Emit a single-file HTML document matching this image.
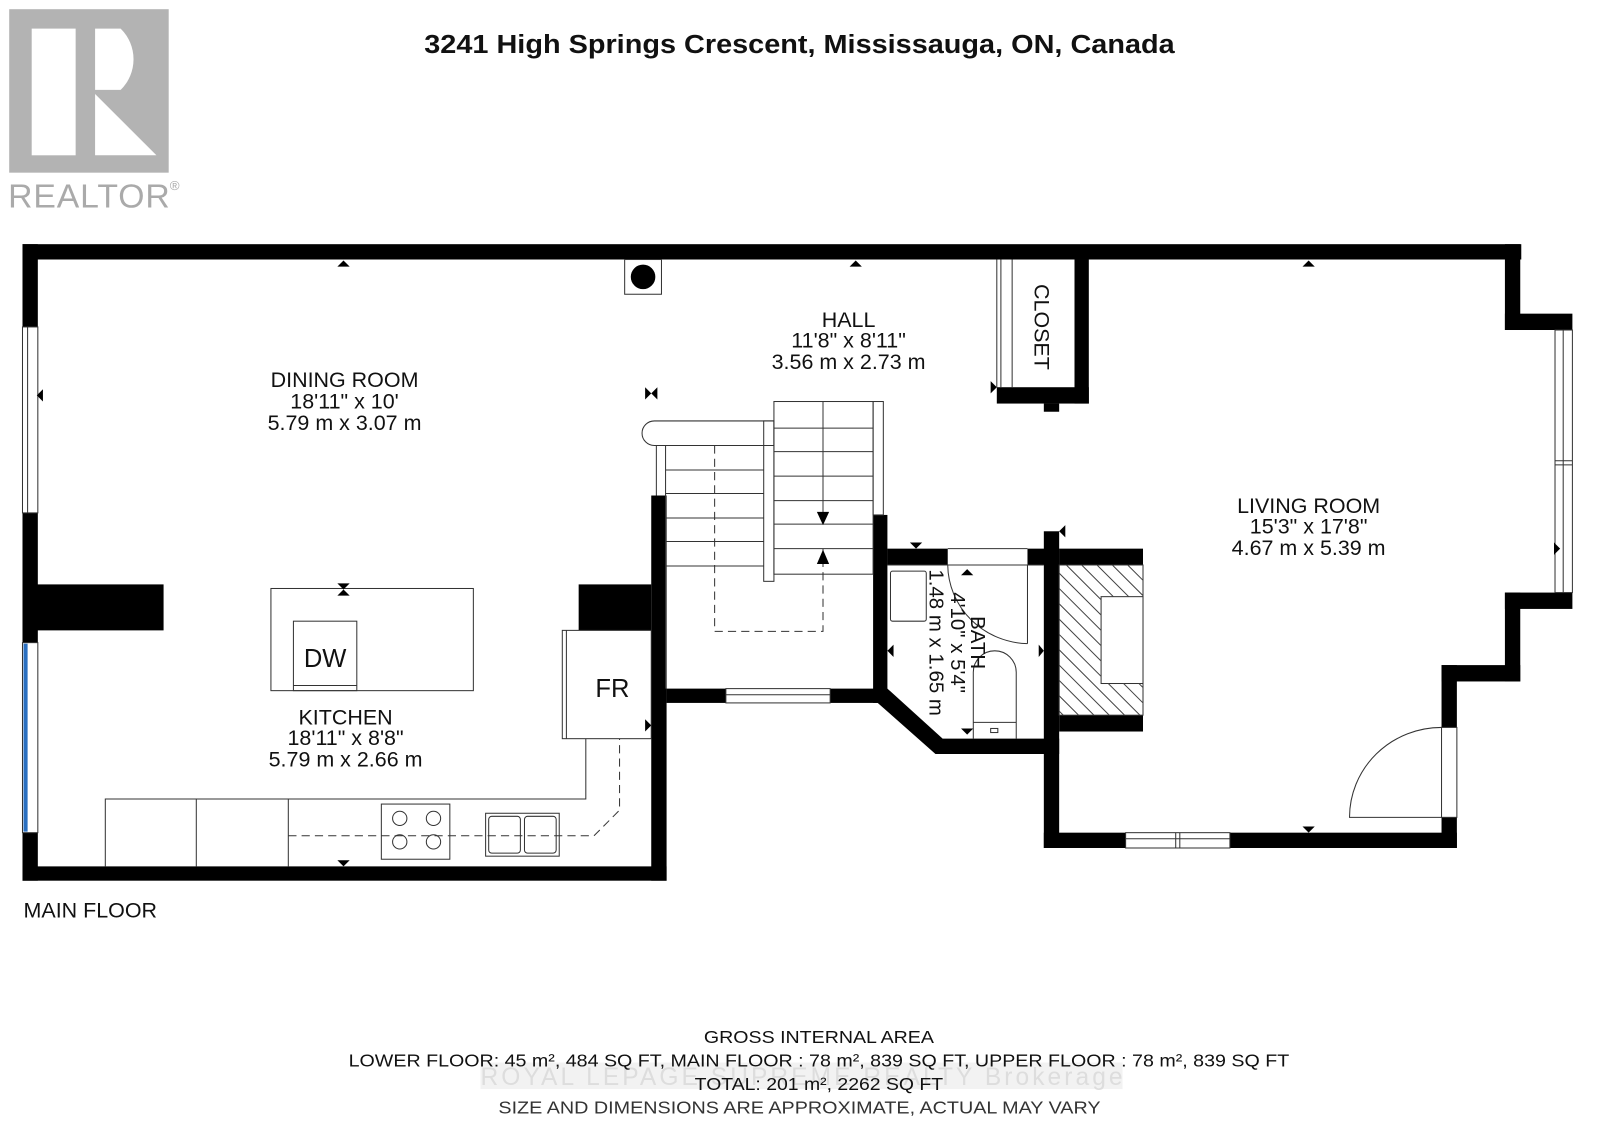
<!DOCTYPE html>
<html><head><meta charset="utf-8"><style>
html,body{margin:0;padding:0;background:#fff;}
svg{display:block;}
text{font-family:"Liberation Sans",Arial,sans-serif;fill:#111;}
</style></head><body>
<svg width="1600" height="1131" viewBox="0 0 1565 1107" preserveAspectRatio="none" xmlns="http://www.w3.org/2000/svg">
<!-- Logo -->
<rect x="9" y="9" width="156" height="160" fill="#b3b3b3"/>
<rect x="31" y="28" width="43" height="124" fill="#fff"/>
<path d="M93 28 H118 A42 42 0 0 1 118 88 H93 Z" fill="#fff"/>
<polygon points="93,92 93,152 153,152" fill="#fff"/>
<text x="8" y="203" font-size="33" style="fill:#aaa" textLength="158">REALTOR</text>
<text x="166" y="186" font-size="13" style="fill:#aaa">®</text>
<!-- Title -->
<text x="782" y="52" font-size="25" font-weight="bold" text-anchor="middle" textLength="734" lengthAdjust="spacingAndGlyphs">3241 High Springs Crescent, Mississauga, ON, Canada</text>

<g fill="#000">
<rect x="22" y="239" width="1466" height="15"/>
<rect x="22" y="239" width="15" height="81"/>
<rect x="22" y="502" width="15" height="127"/>
<rect x="22" y="815" width="15" height="47"/>
<rect x="22" y="572" width="138" height="45"/>
<rect x="22" y="848" width="630" height="14"/>
<rect x="637" y="485" width="15" height="377"/>
<rect x="566" y="572" width="71" height="45"/>
<rect x="652" y="674" width="58" height="14"/>
<rect x="812" y="674" width="56" height="14"/>
<rect x="854" y="504" width="14" height="184"/>
<rect x="868" y="537" width="59" height="16"/>
<rect x="1005" y="537" width="31" height="16"/>
<polygon points="854,674 868,674 922,723 1036,723 1036,738 915,738 854,684"/>
<rect x="1021" y="520" width="15" height="310"/>
<rect x="1036" y="537" width="82" height="16"/>
<rect x="1036" y="700" width="82" height="16"/>
<rect x="1051" y="254" width="14" height="141"/>
<rect x="975" y="379" width="90" height="16"/>
<rect x="1021" y="395" width="15" height="8"/>
<rect x="1472" y="239" width="15" height="84"/>
<rect x="1472" y="307" width="66" height="16"/>
<rect x="1472" y="580" width="66" height="16"/>
<rect x="1472" y="580" width="15" height="87"/>
<rect x="1410" y="651" width="77" height="16"/>
<rect x="1410" y="651" width="15" height="61"/>
<rect x="1410" y="800" width="15" height="30"/>
<rect x="1021" y="815" width="80" height="15"/>
<rect x="1203" y="815" width="222" height="15"/>
</g>

<g fill="none" stroke="#333" stroke-width="1">
<rect x="22" y="320" width="15" height="182"/>
<line x1="27" y1="320" x2="27" y2="502"/>
<rect x="22" y="629" width="15" height="186"/>
<rect x="710" y="674" width="102" height="14"/>
<line x1="710" y1="680" x2="812" y2="680"/>
<rect x="1101" y="815" width="102" height="15"/>
<line x1="1101" y1="821" x2="1203" y2="821"/>
<line x1="1150" y1="815" x2="1150" y2="830"/><line x1="1154" y1="815" x2="1154" y2="830"/>
<rect x="1521" y="323" width="17" height="257"/>
<line x1="1529" y1="323" x2="1529" y2="580"/>
<line x1="1521" y1="451" x2="1538" y2="451"/><line x1="1521" y1="455" x2="1538" y2="455"/>
<rect x="1410" y="712" width="15" height="88"/>
<path d="M1410 712 A90 88 0 0 0 1320 800 L1410 800"/>
<line x1="975" y1="254" x2="975" y2="379"/>
<line x1="979" y1="254" x2="979" y2="379"/>
<line x1="990" y1="254" x2="990" y2="379"/>
<rect x="611" y="254" width="36" height="34"/>
<rect x="265" y="576" width="198" height="100"/>
<rect x="287" y="608" width="62" height="68"/>
<line x1="287" y1="671" x2="349" y2="671"/>
<rect x="550" y="617" width="87" height="106"/>
<line x1="554" y1="617" x2="554" y2="723"/>
<polyline points="103,848 103,782 573,782 573,723"/>
<line x1="192" y1="782" x2="192" y2="848"/>
<line x1="282" y1="782" x2="282" y2="848"/>
<polyline points="282,818 581,818 606,793 606,723" stroke-dasharray="8,5"/>
<rect x="373" y="787" width="67" height="54"/>
<circle cx="391" cy="801" r="7"/><circle cx="424" cy="801" r="7"/>
<circle cx="391" cy="824" r="7"/><circle cx="424" cy="824" r="7"/>
<rect x="475" y="796" width="72" height="42"/>
<rect x="478" y="799" width="31" height="36" rx="3"/>
<rect x="513" y="799" width="31" height="36" rx="3"/>
<path d="M651 412 H757 V436 H640 A12 12 0 0 1 640 412 Z"/>
<line x1="642" y1="436" x2="642" y2="485"/>
<line x1="651" y1="436" x2="651" y2="674"/>
<line x1="651" y1="460" x2="747" y2="460"/>
<line x1="651" y1="483" x2="747" y2="483"/>
<line x1="651" y1="507" x2="747" y2="507"/>
<line x1="651" y1="530" x2="747" y2="530"/>
<line x1="651" y1="554" x2="747" y2="554"/>
<rect x="747" y="412" width="10" height="157"/>
<rect x="757" y="393" width="97" height="169"/>
<line x1="757" y1="419" x2="854" y2="419"/>
<line x1="757" y1="442" x2="854" y2="442"/>
<line x1="757" y1="466" x2="854" y2="466"/>
<line x1="757" y1="490" x2="854" y2="490"/>
<line x1="757" y1="513" x2="854" y2="513"/>
<line x1="757" y1="537" x2="854" y2="537"/>
<line x1="805" y1="393" x2="805" y2="513"/>
<rect x="854" y="393" width="10" height="111"/>
<polyline points="699,436 699,618 805,618 805,537" stroke-dasharray="8,5"/>
<line x1="927" y1="537" x2="1005" y2="537"/>
<line x1="868" y1="553" x2="1021" y2="553"/>
<line x1="1005" y1="553" x2="1005" y2="630"/>
<path d="M927 553 A80 78 0 0 0 1005 630"/>
<rect x="871" y="559" width="35" height="49" rx="2"/>
<path d="M952 723 V658 A21 21 0 0 1 994 658 V723"/>
<line x1="952" y1="707" x2="994" y2="707"/>
<rect x="969" y="713" width="7" height="4"/>
<rect x="1036" y="553" width="82" height="147"/>
<rect x="1077" y="584" width="41" height="85" fill="#fff"/>
</g>
<rect x="23" y="630" width="4" height="184" fill="#2a6fc0"/>
<circle cx="629" cy="271" r="12" fill="#000"/>
<clipPath id="fp"><path d="M1036 553 H1118 V584 H1077 V669 H1118 V700 H1036 Z"/></clipPath>
<g clip-path="url(#fp)" stroke="#444" stroke-width="1">
<path d="M1000 540 l140 140 M1000 555 l140 140 M1000 570 l140 140 M1000 585 l140 140 M1000 600 l140 140 M1000 615 l140 140 M1000 630 l140 140 M1000 645 l140 140 M1000 660 l140 140 M1000 675 l140 140 M1000 525 l140 140 M1000 510 l140 140 M1000 495 l140 140 M1000 480 l140 140 M1000 465 l140 140 M1000 450 l140 140 M1000 435 l140 140 M1000 420 l140 140"/>
</g>

<g fill="#000">
<polygon points="330,261 342,261 336,255"/>
<polygon points="831,261 843,261 837,255"/>
<polygon points="1274,261 1286,261 1280,255"/>
<polygon points="330,842 342,842 336,848"/>
<polygon points="1274,809 1286,809 1280,815"/>
<polygon points="42,381 42,393 36,387"/>
<polygon points="1520,531 1520,543 1526,537"/>
<polygon points="631,379 631,391 637,385"/><polygon points="643,379 643,391 637,385"/>
<polygon points="330,571 342,571 336,577"/><polygon points="330,583 342,583 336,577"/>
<polygon points="631,704 631,716 637,710"/>
<polygon points="969,373 969,385 975,379"/>
<polygon points="799,501 811,501 805,514"/>
<polygon points="799,552 811,552 805,538"/>
<polygon points="890,531 902,531 896,537"/>
<polygon points="940,563 952,563 946,557"/>
<polygon points="940,713 952,713 946,719"/>
<polygon points="874,631 874,643 868,637"/>
<polygon points="1016,631 1016,643 1021,637"/>
<polygon points="1042,514 1042,526 1036,520"/>
</g>

<g font-size="21" text-anchor="middle">
<text x="337" y="379">DINING ROOM</text>
<text x="337" y="400">18'11" x 10'</text>
<text x="337" y="421">5.79 m x 3.07 m</text>
<text x="338" y="709">KITCHEN</text>
<text x="338" y="729">18'11" x 8'8"</text>
<text x="338" y="750">5.79 m x 2.66 m</text>
<text x="830" y="320">HALL</text>
<text x="830" y="340">11'8" x 8'11"</text>
<text x="830" y="361">3.56 m x 2.73 m</text>
<text x="1280" y="502">LIVING ROOM</text>
<text x="1280" y="522">15'3" x 17'8"</text>
<text x="1280" y="543">4.67 m x 5.39 m</text>
<text transform="translate(1012,320) rotate(90)">CLOSET</text>
<g transform="translate(944,629) rotate(90)" font-size="20">
<text x="0" y="-6">BATH</text>
<text x="0" y="14">4'10" x 5'4"</text>
<text x="0" y="35">1.48 m x 1.65 m</text>
</g>
</g>
<text x="318" y="653" font-size="25" text-anchor="middle">DW</text>
<text x="599" y="682" font-size="25" text-anchor="middle">FR</text>
<text x="23" y="898" font-size="21">MAIN FLOOR</text>

<rect x="470" y="1040" width="628" height="26" fill="#f2f2f2"/>
<text x="784" y="1062" font-size="24" text-anchor="middle" style="fill:#ddd" textLength="628">ROYAL LEPAGE SUPREME REALTY Brokerage</text>
<g font-size="17" text-anchor="middle">
<text x="801" y="1021" textLength="225" lengthAdjust="spacingAndGlyphs">GROSS INTERNAL AREA</text>
<text x="801" y="1044" textLength="920" lengthAdjust="spacingAndGlyphs">LOWER FLOOR: 45 m², 484 SQ FT,  MAIN FLOOR : 78 m², 839 SQ FT, UPPER FLOOR : 78 m², 839 SQ FT</text>
<text x="801" y="1067" textLength="243" lengthAdjust="spacingAndGlyphs">TOTAL: 201 m², 2262 SQ FT</text>
<text x="782" y="1090" textLength="589" lengthAdjust="spacingAndGlyphs" style="fill:#333">SIZE AND DIMENSIONS ARE APPROXIMATE, ACTUAL MAY VARY</text>
</g>
</svg>
</body></html>
